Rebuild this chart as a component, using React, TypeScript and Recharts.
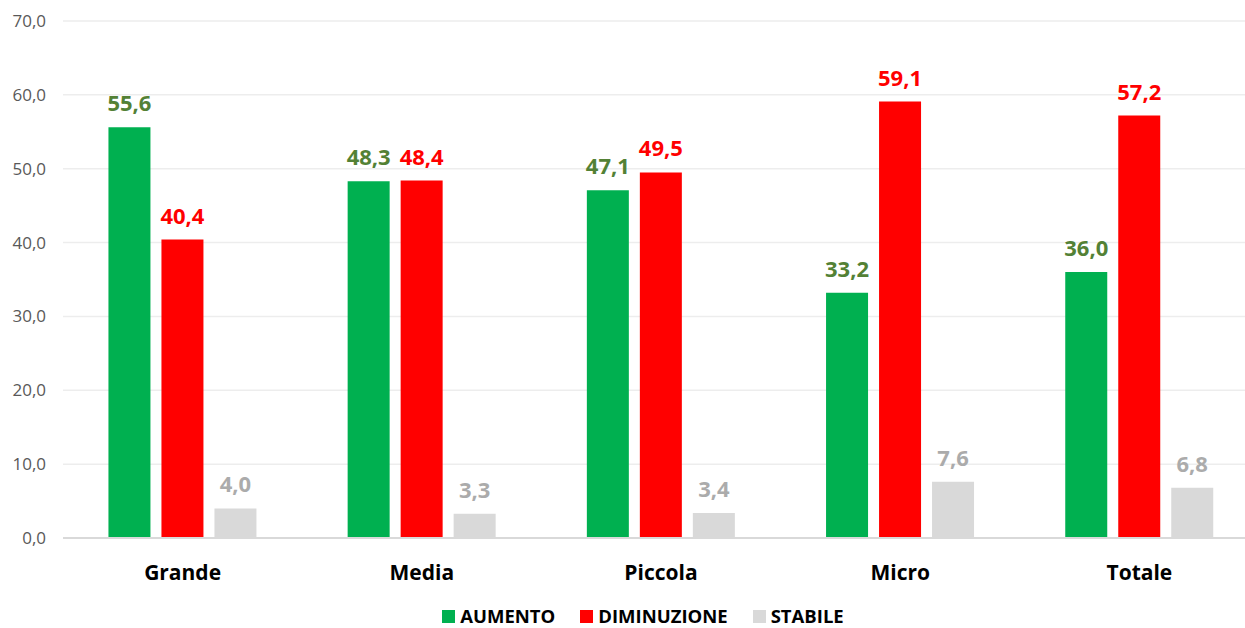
import React from "react";
import { BarChart, Bar, XAxis, YAxis, CartesianGrid, LabelList, Legend } from "recharts";

const categories = ["Grande", "Media", "Piccola", "Micro", "Totale"];
const aumento = [55.6, 48.3, 47.1, 33.2, 36.0];
const diminuzione = [40.4, 48.4, 49.5, 59.1, 57.2];
const stabile = [4.0, 3.3, 3.4, 7.6, 6.8];
const yTicks = [0, 10, 20, 30, 40, 50, 60, 70];

const seriesInfo = [
  { key: "aumento", name: "AUMENTO", fill: "#00B050", labelColor: "#538135" },
  { key: "diminuzione", name: "DIMINUZIONE", fill: "#FF0000", labelColor: "#FF0000" },
  { key: "stabile", name: "STABILE", fill: "#D9D9D9", labelColor: "#ABABAB" },
];

const data = categories.map((c, i) => ({
  name: c,
  aumento: aumento[i],
  diminuzione: diminuzione[i],
  stabile: stabile[i],
}));

const fmt = (v: number) => v.toFixed(1).replace(".", ",");
const FONT = "'Open Sans', 'Noto Sans', sans-serif";

const LegendContent = () => (
  <div
    style={{
      display: "flex",
      justifyContent: "center",
      gap: 25,
      fontFamily: FONT,
      fontWeight: 700,
      fontSize: 18.5,
      lineHeight: "20px",
      color: "#000",
      paddingTop: 14,
      paddingLeft: 27,
    }}
  >
    {seriesInfo.map((s) => (
      <div key={s.key} style={{ display: "flex", alignItems: "center", gap: 5 }}>
        <span style={{ width: 13, height: 13, background: s.fill, display: "inline-block" }} />
        <span>{s.name}</span>
      </div>
    ))}
  </div>
);

export default function App() {
  return (
    <div style={{ position: "absolute", left: 0, top: 0, width: 1245, height: 628, background: "#fff", overflow: "hidden" }}>
      <BarChart
        width={1259}
        height={628}
        data={data}
        margin={{ top: 21, right: 0, left: 0, bottom: 0 }}
        barCategoryGap="19%"
        barGap={11}
      >
        <CartesianGrid horizontal vertical={false} stroke="#EDEDED" strokeWidth={1.5} />
        <XAxis
          dataKey="name"
          height={54}
          axisLine={{ stroke: "#D9D9D9", strokeWidth: 2 }}
          tickLine={false}
          tick={{ fill: "#000", fontSize: 21, fontWeight: 700, fontFamily: FONT }}
          dy={19}
        />
        <YAxis
          width={63}
          domain={[0, 70]}
          ticks={yTicks}
          axisLine={false}
          tickLine={false}
          tickFormatter={(v: number) => fmt(v)}
          tick={{ fill: "#595959", fontSize: 17, fontFamily: FONT }}
          dx={-9}
        />
        <Legend verticalAlign="bottom" height={36} content={<LegendContent />} />
        {seriesInfo.map((s) => (
          <Bar key={s.key} dataKey={s.key} name={s.name} fill={s.fill} isAnimationActive={false}>
            <LabelList
              dataKey={s.key}
              position="top"
              offset={16}
              formatter={(v: number) => fmt(v)}
              style={{ fill: s.labelColor, fontSize: 22, fontWeight: 700, fontFamily: FONT }}
            />
          </Bar>
        ))}
      </BarChart>
    </div>
  );
}
